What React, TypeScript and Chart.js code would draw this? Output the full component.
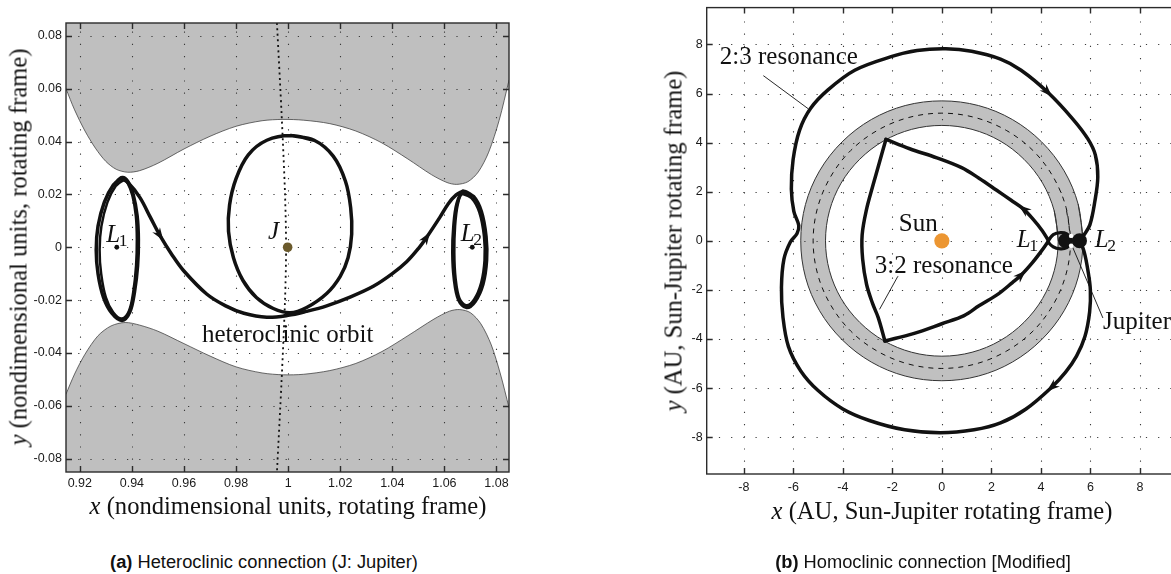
import React, { useEffect, useRef } from 'react';
import { Chart, registerables } from 'chart.js';

Chart.register(...registerables);

type P = [number, number];

const SERIF = '"Liberation Serif", "DejaVu Serif", serif';
const SANS = '"Liberation Sans", Arial, sans-serif';
Chart.defaults.font.family = SANS;

// ---------------- Panel (a): heteroclinic connection ----------------
const A_X_TICKS = [0.92, 0.94, 0.96, 0.98, 1.0, 1.02, 1.04, 1.06, 1.08];
const A_X_LABELS = ['0.92', '0.94', '0.96', '0.98', '1', '1.02', '1.04', '1.06', '1.08'];
const A_Y_TICKS = [-0.08, -0.06, -0.04, -0.02, 0, 0.02, 0.04, 0.06, 0.08];
const A_Y_LABELS = ['-0.08', '-0.06', '-0.04', '-0.02', '0', '0.02', '0.04', '0.06', '0.08'];
const A_X_RANGE: P = [0.9147, 1.0848];
const A_Y_RANGE: P = [-0.0851, 0.0849];

const A_FORBIDDEN_TOP: P[] = [
  [0.9147, 0.06], [0.918, 0.052], [0.922, 0.044], [0.926, 0.0375], [0.93, 0.0325], [0.934, 0.0295],
  [0.9384, 0.0284], [0.943, 0.029], [0.95, 0.0318], [0.96, 0.0372], [0.97, 0.042], [0.98, 0.0458],
  [0.99, 0.0479], [0.998, 0.0484], [1.006, 0.0481], [1.016, 0.0468], [1.026, 0.044], [1.036, 0.0395],
  [1.046, 0.0334], [1.055, 0.0275], [1.061, 0.0245], [1.0647, 0.0238], [1.069, 0.0248], [1.073, 0.0285],
  [1.077, 0.036], [1.081, 0.048], [1.0848, 0.0632],
];
const A_FORBIDDEN_BOTTOM: P[] = [
  [0.9147, -0.0556], [0.918, -0.048], [0.922, -0.0405], [0.927, -0.0335], [0.932, -0.0298], [0.9374, -0.0285],
  [0.943, -0.0295], [0.95, -0.0318], [0.96, -0.0365], [0.97, -0.0412], [0.98, -0.0453], [0.99, -0.0476],
  [0.9981, -0.0483], [1.006, -0.0481], [1.016, -0.0467], [1.026, -0.044], [1.036, -0.0395], [1.046, -0.0335],
  [1.056, -0.0272], [1.062, -0.0242], [1.0659, -0.0236], [1.07, -0.0248], [1.074, -0.029], [1.078, -0.037],
  [1.0815, -0.048], [1.0848, -0.0607],
];
const A_JUPITER_ORBIT: P[] = [
  [0.9957, 0.0849], [0.9975, 0.05], [0.9988, 0.02], [0.9992, 0], [0.9988, -0.02], [0.9975, -0.05], [0.9957, -0.0851],
];
const A_L1_ORBIT: P[] = [
  [0.9363, 0.0264], [0.9328, 0.0235], [0.9294, 0.017], [0.927, 0.008], [0.9263, -0.001], [0.927, -0.01],
  [0.9291, -0.019], [0.9323, -0.025], [0.9362, -0.0277], [0.9392, -0.0245], [0.941, -0.017], [0.9422, -0.007],
  [0.9425, 0.003], [0.942, 0.012], [0.9405, 0.02], [0.9385, 0.0248], [0.9363, 0.0264], [0.9328, 0.0235],
];
const A_L1_ORBIT_2: P[] = [
  [0.9368, 0.0254], [0.9338, 0.0232], [0.9306, 0.017], [0.9283, 0.008], [0.9276, -0.001], [0.9282, -0.01],
  [0.93, -0.019], [0.9328, -0.0246], [0.9362, -0.027], [0.9389, -0.024], [0.9405, -0.017], [0.9416, -0.007],
  [0.9419, 0.003], [0.9415, 0.012], [0.9402, 0.0195], [0.9384, 0.0242], [0.9368, 0.0254], [0.9338, 0.0232],
];
const A_L2_ORBIT: P[] = [
  [1.0672, 0.0212], [1.0712, 0.0192], [1.0742, 0.0135], [1.076, 0.004], [1.0762, -0.005], [1.0748, -0.014],
  [1.0718, -0.0205], [1.0685, -0.0228], [1.0655, -0.02], [1.0638, -0.012], [1.0632, -0.002], [1.0636, 0.008],
  [1.0648, 0.0165], [1.0672, 0.0212], [1.0712, 0.0192],
];
const A_L2_ORBIT_2: P[] = [
  [1.0668, 0.0202], [1.0704, 0.0186], [1.0734, 0.0132], [1.0752, 0.004], [1.0754, -0.005], [1.0741, -0.0135],
  [1.0714, -0.0198], [1.0684, -0.022], [1.0658, -0.0194], [1.0643, -0.0118], [1.0638, -0.002], [1.0641, 0.008],
  [1.0651, 0.016], [1.0668, 0.0202], [1.0704, 0.0186],
];
const A_J_LOOP: P[] = [
  [1.001, 0.0423], [1.01, 0.0405], [1.0173, 0.0345], [1.022, 0.025], [1.024, 0.015], [1.0244, 0.005],
  [1.023, -0.004], [1.02, -0.011], [1.0148, -0.0175], [1.0071, -0.0228], [1.0007, -0.0248], [0.9943, -0.0232],
  [0.9878, -0.019], [0.9826, -0.0125], [0.979, -0.004], [0.9771, 0.006], [0.9775, 0.016], [0.98, 0.026],
  [0.9847, 0.035], [0.9918, 0.0405], [1.001, 0.0423], [1.01, 0.0405],
];
const A_HETEROCLINIC: P[] = [
  [0.9358, 0.0262], [0.9385, 0.0245], [0.9431, 0.0188], [0.947, 0.0115], [0.9508, 0.0044], [0.9555, -0.003],
  [0.9598, -0.0088], [0.9687, -0.0177], [0.976, -0.0222], [0.983, -0.025], [0.9918, -0.0265], [1.0, -0.0258],
  [1.007, -0.0243], [1.0148, -0.0222], [1.024, -0.0188], [1.0327, -0.0148], [1.04, -0.01], [1.0455, -0.0055],
  [1.05, -0.0005], [1.0532, 0.0038], [1.0583, 0.0114], [1.0615, 0.0165], [1.0645, 0.0198], [1.067, 0.0212],
];
const A_LAGRANGE: P[] = [[0.9342, 0], [1.0707, 0]];
const A_JUPITER: P[] = [[0.9998, 0]];
const A_ARROWS: { at: P; to: P }[] = [
  { at: [0.9508, 0.0044], to: [0.9598, -0.0088] },
  { at: [1.0532, 0.0038], to: [1.0583, 0.0114] },
];
const A_TEXTS: Txt[] = [
  { text: 'L', sub: '1', italic: true, at: [0.9302, 0.0018] },
  { text: 'L', sub: '2', italic: true, at: [1.0663, 0.0022] },
  { text: 'J', italic: true, at: [0.9923, 0.0033] },
  { text: 'heteroclinic orbit', at: [0.9669, -0.0358] },
];

// ---------------- Panel (b): homoclinic connection ----------------
const B_TICKS = [-8, -6, -4, -2, 0, 2, 4, 6, 8];
const B_TICK_LABELS = ['-8', '-6', '-4', '-2', '0', '2', '4', '6', '8'];
const B_RANGE: P = [-9.5, 9.5];

const B_RING_OUTER: P[] = [
  [5.7, 0], [5.51, 1.48], [4.94, 2.85], [4.03, 4.03], [2.85, 4.94], [1.48, 5.51], [0, 5.7], [-1.48, 5.51],
  [-2.85, 4.94], [-4.03, 4.03], [-4.94, 2.85], [-5.51, 1.48], [-5.7, 0], [-5.51, -1.48], [-4.94, -2.85],
  [-4.03, -4.03], [-2.85, -4.94], [-1.48, -5.51], [0, -5.7], [1.48, -5.51], [2.85, -4.94], [4.03, -4.03],
  [4.94, -2.85], [5.51, -1.48], [5.7, 0], [5.51, 1.48],
];
const B_RING_INNER: P[] = [
  [4.7, 0], [4.54, 1.22], [4.07, 2.35], [3.32, 3.32], [2.35, 4.07], [1.22, 4.54], [0, 4.7], [-1.22, 4.54],
  [-2.35, 4.07], [-3.32, 3.32], [-4.07, 2.35], [-4.54, 1.22], [-4.7, 0], [-4.54, -1.22], [-4.07, -2.35],
  [-3.32, -3.32], [-2.35, -4.07], [-1.22, -4.54], [0, -4.7], [1.22, -4.54], [2.35, -4.07], [3.32, -3.32],
  [4.07, -2.35], [4.54, -1.22], [4.7, 0], [4.54, 1.22],
];
const B_JUPITER_ORBIT: P[] = [
  [5.2, 0], [5.02, 1.35], [4.5, 2.6], [3.68, 3.68], [2.6, 4.5], [1.35, 5.02], [0, 5.2], [-1.35, 5.02],
  [-2.6, 4.5], [-3.68, 3.68], [-4.5, 2.6], [-5.02, 1.35], [-5.2, 0], [-5.02, -1.35], [-4.5, -2.6],
  [-3.68, -3.68], [-2.6, -4.5], [-1.35, -5.02], [0, -5.2], [1.35, -5.02], [2.6, -4.5], [3.68, -3.68],
  [4.5, -2.6], [5.02, -1.35], [5.2, 0], [5.02, 1.35],
];
const B_RES_2_3: P[] = [
  [5.58, 0], [5.72, 0.2], [5.98, 0.65], [6.18, 1.6], [6.3, 2.6], [6.2, 3.5], [5.9, 4.15], [5.3, 4.95],
  [4.28, 6.05], [3.2, 6.95], [2.37, 7.4], [1.2, 7.72], [0.16, 7.82], [-1.0, 7.75], [-2.05, 7.5], [-3.52, 6.95],
  [-4.6, 6.15], [-5.3, 5.4], [-5.75, 4.5], [-6.01, 3.3], [-6.08, 2.1], [-5.98, 1.2], [-5.78, 0.62],
  [-5.85, 0.3], [-6.12, -0.05], [-6.38, -0.75], [-6.48, -1.9], [-6.42, -3.1], [-6.2, -4.3], [-5.7, -5.3],
  [-5.0, -6.1], [-4.0, -6.85], [-2.93, -7.32], [-1.5, -7.7], [-0.06, -7.82], [1.3, -7.7], [2.37, -7.42],
  [3.4, -6.85], [4.43, -5.97], [5.0, -5.35], [5.44, -4.7], [5.78, -3.9], [5.97, -2.9], [6.0, -2.0],
  [5.9, -1.2], [5.75, -0.45], [5.58, 0],
];
const B_RES_3_2_LEFT: P[] = [
  [-2.26, 4.13], [-2.52, 3.2], [-2.78, 2.27], [-3.05, 1.25], [-3.22, 0.24], [-3.2, -0.75], [-3.04, -1.78],
  [-2.8, -2.55], [-2.57, -3.13], [-2.3, -4.08],
];
const B_RES_3_2_UPPER: P[] = [
  [-2.26, 4.13], [-1.3, 3.75], [-0.2, 3.38], [0.8, 2.98], [1.5, 2.55], [2.2, 2.07], [2.8, 1.65], [3.29, 1.3],
  [3.7, 0.86], [4.05, 0.42], [4.3, 0.02],
];
const B_RES_3_2_LOWER: P[] = [
  [-2.3, -4.08], [-1.15, -3.78], [0.0, -3.38], [0.9, -3.05], [1.5, -2.65], [2.3, -2.15], [2.85, -1.7],
  [3.22, -1.38], [3.65, -0.9], [4.02, -0.42], [4.3, -0.02],
];
const B_L1_LOOP: P[] = [
  [4.3, 0], [4.5, 0.25], [4.8, 0.33], [5.05, 0.28], [5.18, 0.12], [5.18, -0.12], [5.05, -0.28],
  [4.8, -0.33], [4.5, -0.25], [4.3, 0], [4.5, 0.25],
];
const B_LAGRANGE_BLOBS: P[] = [[5.0, 0], [5.56, 0]];
const B_JUPITER: P[] = [[5.22, 0.2], [5.22, -0.2]];
const B_SUN: P[] = [[0, 0]];
const B_LEADER_2_3: P[] = [[-7.2, 6.72], [-5.4, 5.38]];
const B_LEADER_3_2: P[] = [[-1.78, -1.45], [-2.51, -2.78]];
const B_LEADER_JUPITER: P[] = [[5.3, -0.3], [6.5, -3.13]];
const B_ARROWS: { at: P; to: P }[] = [
  { at: [4.28, 6.05], to: [5.0, 5.3] },
  { at: [4.43, -5.97], to: [3.5, -6.75] },
  { at: [3.29, 1.3], to: [2.4, 2.0] },
  { at: [3.22, -1.38], to: [3.9, -0.7] },
];
const B_TEXTS: Txt[] = [
  { text: '2:3 resonance', at: [-8.97, 7.2] },
  { text: 'Sun', at: [-1.74, 0.38] },
  { text: '3:2 resonance', at: [-2.71, -1.3] },
  { text: 'L', sub: '1', italic: true, at: [3.03, -0.27] },
  { text: 'L', sub: '2', italic: true, at: [6.18, -0.27] },
  { text: 'Jupiter', at: [6.51, -3.59] },
];

// ---------------- helpers ----------------
type Txt = { text: string; sub?: string; italic?: boolean; at: P };
const GRID_ANCHOR = '__grid_anchor__';
const INK = '#111';

const pts = (d: P[]) => d.map(([x, y]) => ({ x, y }));

function curve(d: P[], extra: any = {}) {
  return {
    data: pts(d),
    borderColor: INK,
    borderWidth: 3.5,
    pointRadius: 0,
    fill: false,
    tension: 0.35,
    borderCapStyle: 'round',
    borderJoinStyle: 'round',
    order: 20,
    ...extra,
  };
}

function dots(d: P[], color: string, radius: number, order = 2) {
  return {
    data: pts(d),
    showLine: false,
    pointRadius: radius,
    pointBackgroundColor: color,
    pointBorderColor: color,
    pointBorderWidth: 0,
    order,
  };
}

function framePlugin(texts: Txt[], arrows: { at: P; to: P }[]) {
  return {
    id: 'matlabFrame',
    afterDatasetDraw(chart: any, args: any) {
      const ds = chart.data.datasets[args.index];
      if (!ds || ds.label !== GRID_ANCHOR) return;
      const { ctx, chartArea: a, scales } = chart;
      const xs = scales.x;
      const ys = scales.y;
      ctx.save();
      ctx.beginPath();
      ctx.rect(a.left, a.top, a.right - a.left, a.bottom - a.top);
      ctx.clip();
      ctx.strokeStyle = '#3a3a3a';
      ctx.lineWidth = 1.1;
      ctx.setLineDash([1.2, 11]);
      for (const t of xs.ticks) {
        const px = Math.round(xs.getPixelForValue(t.value)) + 0.5;
        ctx.beginPath();
        ctx.moveTo(px, a.bottom);
        ctx.lineTo(px, a.top);
        ctx.stroke();
      }
      for (const t of ys.ticks) {
        const py = Math.round(ys.getPixelForValue(t.value)) + 0.5;
        ctx.beginPath();
        ctx.moveTo(a.left, py);
        ctx.lineTo(a.right, py);
        ctx.stroke();
      }
      ctx.restore();
    },
    afterDatasetsDraw(chart: any) {
      const { ctx, chartArea: a, scales } = chart;
      const xs = scales.x;
      const ys = scales.y;
      ctx.save();
      // arrowheads
      ctx.fillStyle = INK;
      for (const ar of arrows) {
        const px = xs.getPixelForValue(ar.at[0]);
        const py = ys.getPixelForValue(ar.at[1]);
        const qx = xs.getPixelForValue(ar.to[0]);
        const qy = ys.getPixelForValue(ar.to[1]);
        let dx = qx - px;
        let dy = qy - py;
        const L = Math.hypot(dx, dy) || 1;
        dx /= L;
        dy /= L;
        const nx = -dy;
        const ny = dx;
        const tipX = px + dx * 6;
        const tipY = py + dy * 6;
        const bx = px - dx * 7;
        const by = py - dy * 7;
        ctx.beginPath();
        ctx.moveTo(tipX, tipY);
        ctx.lineTo(bx + nx * 4.6, by + ny * 4.6);
        ctx.lineTo(px - dx * 3, py - dy * 3);
        ctx.lineTo(bx - nx * 4.6, by - ny * 4.6);
        ctx.closePath();
        ctx.fill();
      }
      // text labels
      ctx.fillStyle = INK;
      ctx.textAlign = 'left';
      ctx.textBaseline = 'alphabetic';
      for (const t of texts) {
        const px = xs.getPixelForValue(t.at[0]);
        const py = ys.getPixelForValue(t.at[1]);
        ctx.font = `${t.italic ? 'italic ' : ''}25px ${SERIF}`;
        ctx.fillText(t.text, px, py);
        if (t.sub) {
          const w = ctx.measureText(t.text).width;
          ctx.font = `17.5px ${SERIF}`;
          ctx.fillText(t.sub, px + w - 1.5, py + 4);
        }
      }
      // box and inward ticks
      ctx.strokeStyle = '#2b2b2b';
      ctx.lineWidth = 1.4;
      ctx.setLineDash([]);
      ctx.strokeRect(a.left, a.top, a.right - a.left, a.bottom - a.top);
      ctx.beginPath();
      for (const t of xs.ticks) {
        const px = Math.round(xs.getPixelForValue(t.value)) + 0.5;
        ctx.moveTo(px, a.bottom);
        ctx.lineTo(px, a.bottom - 6);
        ctx.moveTo(px, a.top);
        ctx.lineTo(px, a.top + 6);
      }
      for (const t of ys.ticks) {
        const py = Math.round(ys.getPixelForValue(t.value)) + 0.5;
        ctx.moveTo(a.left, py);
        ctx.lineTo(a.left + 6, py);
        ctx.moveTo(a.right, py);
        ctx.lineTo(a.right - 6, py);
      }
      ctx.stroke();
      ctx.restore();
    },
  };
}

function axis(range: P, ticks: number[], labels: string[], horizontal: boolean, size: number, pad: number) {
  return {
    type: 'linear',
    min: range[0],
    max: range[1],
    grid: { display: false, drawTicks: false, tickLength: 0 },
    border: { display: false },
    ticks: {
      autoSkip: false,
      maxRotation: 0,
      padding: pad,
      color: '#1a1a1a',
      font: { size: 12.5, family: SANS },
      callback: (_v: any, i: number) => labels[i],
    },
    afterBuildTicks: (s: any) => {
      s.ticks = ticks.map((v) => ({ value: v }));
    },
    afterFit: (s: any) => {
      if (horizontal) {
        s.height = size;
        s.paddingLeft = 0;
        s.paddingRight = 0;
      } else {
        s.width = size;
        s.paddingTop = 0;
        s.paddingBottom = 0;
      }
    },
  };
}

function configA() {
  return {
    type: 'line',
    data: {
      datasets: [
        dots(A_JUPITER, '#6b5a2c', 4.8, 1),
        dots(A_LAGRANGE, INK, 2.4, 1),
        curve(A_HETEROCLINIC, { order: 10 }),
        curve(A_J_LOOP, { order: 10 }),
        curve(A_L1_ORBIT, { order: 10 }),
        curve(A_L1_ORBIT_2, { order: 10, borderWidth: 2.5 }),
        curve(A_L2_ORBIT, { order: 10 }),
        curve(A_L2_ORBIT_2, { order: 10, borderWidth: 2.5 }),
        curve(A_JUPITER_ORBIT, { order: 30, borderWidth: 1.8, borderDash: [2, 3.5], borderCapStyle: 'butt', tension: 0.3 }),
        {
          label: GRID_ANCHOR,
          ...curve(A_FORBIDDEN_BOTTOM, { order: 90, borderWidth: 0.8, borderColor: '#444', fill: 'start', backgroundColor: '#bfbfbf', tension: 0.3 }),
        },
        curve(A_FORBIDDEN_TOP, { order: 91, borderWidth: 0.8, borderColor: '#444', fill: 'end', backgroundColor: '#bfbfbf', tension: 0.3 }),
      ],
    },
    options: {
      animation: false,
      responsive: false,
      events: [],
      layout: { padding: { left: 0, top: 23, right: 31, bottom: 0 } },
      plugins: { legend: { display: false }, tooltip: { enabled: false }, title: { display: false } },
      scales: {
        x: axis(A_X_RANGE, A_X_TICKS, A_X_LABELS, true, 28, 4),
        y: axis(A_Y_RANGE, A_Y_TICKS, A_Y_LABELS, false, 66, 4),
      },
    },
    plugins: [framePlugin(A_TEXTS, A_ARROWS)],
  };
}

function configB() {
  return {
    type: 'line',
    data: {
      datasets: [
        dots(B_JUPITER, '#ffffff', 2.2, 0),
        dots(B_LAGRANGE_BLOBS, INK, 7.5, 1),
        dots(B_SUN, '#ec9632', 7.6, 1),
        curve(B_L1_LOOP, { order: 5, borderWidth: 3.2, tension: 0.4 }),
        curve(B_RES_2_3, { order: 10 }),
        curve(B_RES_3_2_LEFT, { order: 10 }),
        curve(B_RES_3_2_UPPER, { order: 10 }),
        curve(B_RES_3_2_LOWER, { order: 10 }),
        curve(B_LEADER_2_3, { order: 12, borderWidth: 0.9, tension: 0 }),
        curve(B_LEADER_3_2, { order: 12, borderWidth: 0.9, tension: 0 }),
        curve(B_LEADER_JUPITER, { order: 12, borderWidth: 0.9, tension: 0 }),
        curve(B_JUPITER_ORBIT, { order: 30, borderWidth: 1, borderDash: [5, 5], borderCapStyle: 'butt', tension: 0.34 }),
        {
          label: GRID_ANCHOR,
          ...curve(B_RING_INNER, { order: 90, borderWidth: 1, borderColor: '#333', fill: 'shape', backgroundColor: '#ffffff', tension: 0.34 }),
        },
        curve(B_RING_OUTER, { order: 91, borderWidth: 1, borderColor: '#333', fill: 'shape', backgroundColor: '#c0c0c0', tension: 0.34 }),
      ],
    },
    options: {
      animation: false,
      responsive: false,
      events: [],
      layout: { padding: { left: 0, top: 4, right: 23, bottom: 0 } },
      plugins: { legend: { display: false }, tooltip: { enabled: false }, title: { display: false } },
      scales: {
        x: axis(B_RANGE, B_TICKS, B_TICK_LABELS, true, 26, 6),
        y: axis(B_RANGE, B_TICKS, B_TICK_LABELS, false, 66.7, 4),
      },
    },
    plugins: [framePlugin(B_TEXTS, B_ARROWS)],
  };
}

function ChartCanvas({ make, left, top, width, height }: { make: () => any; left: number; top: number; width: number; height: number }) {
  const ref = useRef<HTMLCanvasElement>(null);
  useEffect(() => {
    const chart = new Chart(ref.current as HTMLCanvasElement, make());
    return () => chart.destroy();
  }, []);
  return (
    <canvas
      ref={ref}
      width={width}
      height={height}
      style={{ position: 'absolute', left, top, width, height }}
    />
  );
}

const titleStyle: React.CSSProperties = {
  position: 'absolute',
  fontFamily: SERIF,
  fontSize: 24.6,
  lineHeight: '25px',
  color: '#111',
  whiteSpace: 'nowrap',
};

const captionStyle: React.CSSProperties = {
  position: 'absolute',
  fontFamily: SANS,
  fontSize: 18.3,
  lineHeight: '19px',
  color: '#111',
  whiteSpace: 'nowrap',
  transform: 'translate(-50%, -50%)',
};

export default function App() {
  return (
    <div style={{ position: 'fixed', left: 0, top: 0, width: 1171, height: 574, overflow: 'hidden', background: '#fff' }}>
      <ChartCanvas make={configA} left={0} top={0} width={540} height={500} />
      <ChartCanvas make={configB} left={640} top={0} width={560} height={500} />

      <div style={{ ...titleStyle, left: 288, top: 505, transform: 'translate(-50%, -50%)' }}>
        <i>x</i> (nondimensional units, rotating frame)
      </div>
      <div style={{ ...titleStyle, left: 18, top: 247, transform: 'translate(-50%, -50%) rotate(-90deg)' }}>
        <i>y</i> (nondimensional units, rotating frame)
      </div>
      <div style={{ ...titleStyle, left: 942, top: 510, transform: 'translate(-50%, -50%)' }}>
        <i>x</i> (AU, Sun-Jupiter rotating frame)
      </div>
      <div style={{ ...titleStyle, left: 673, top: 241, transform: 'translate(-50%, -50%) rotate(-90deg)' }}>
        <i>y</i> (AU, Sun-Jupiter rotating frame)
      </div>

      <div style={{ ...captionStyle, left: 264, top: 561 }}>
        <b>(a)</b> Heteroclinic connection (J: Jupiter)
      </div>
      <div style={{ ...captionStyle, left: 923, top: 561 }}>
        <b>(b)</b> Homoclinic connection [Modified]
      </div>
    </div>
  );
}
